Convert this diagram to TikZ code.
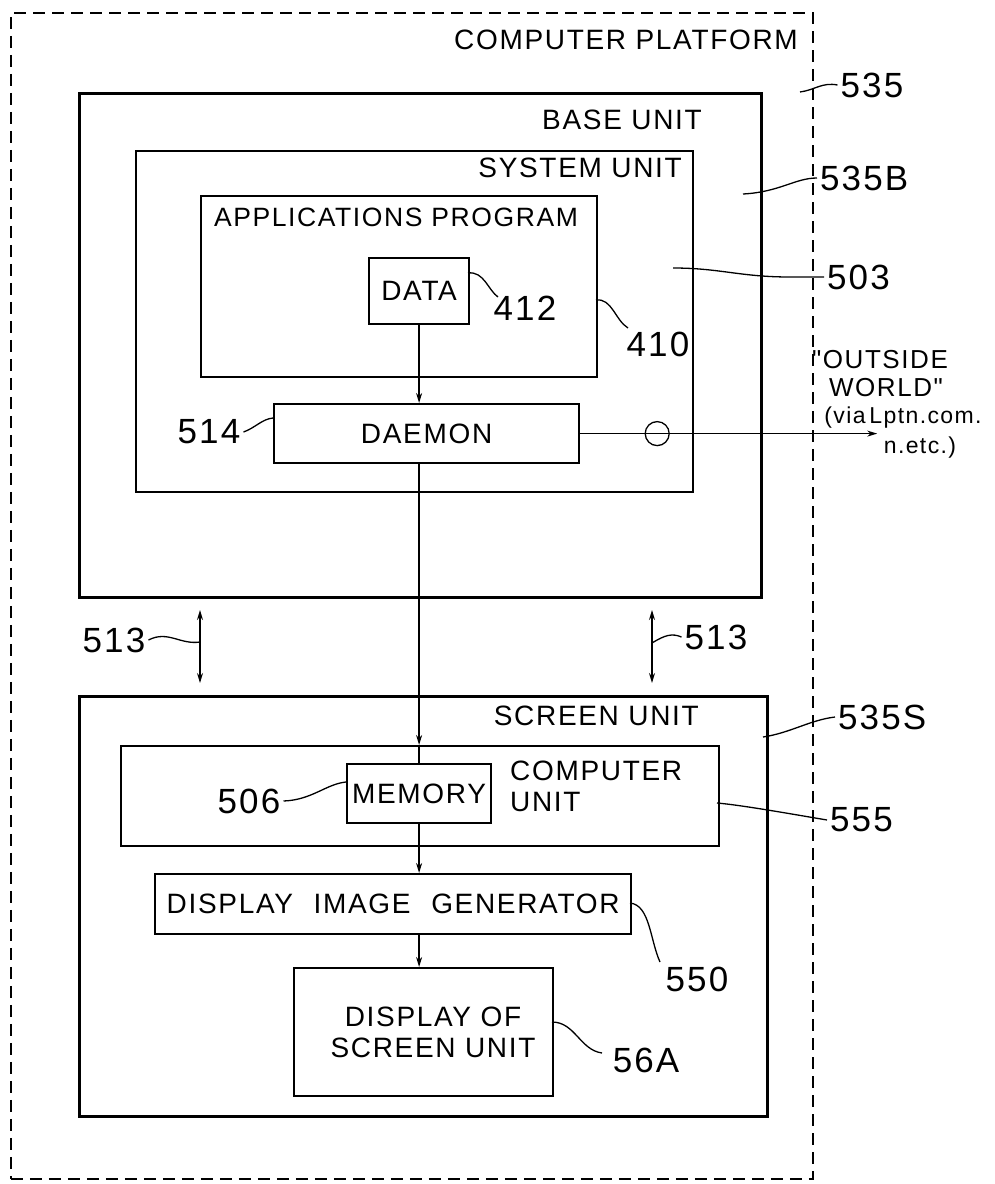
\documentclass[tikz,border=0pt]{standalone}
\usepackage{fontspec}
\setmainfont{Liberation Sans}[LetterSpace=6]
\newfontfamily\owfont{Liberation Sans}[LetterSpace=6]
\usetikzlibrary{arrows.meta,calc}
\begin{document}
\begin{tikzpicture}[x=1pt,y=-1pt,
  box/.style={draw,line width=2.2pt,inner sep=0pt,anchor=north west},
  heavy/.style={box,line width=2.8pt},
  lbl/.style={font=\fontsize{28}{31}\selectfont,inner sep=0pt},
  num/.style={font=\fontsize{35}{37}\selectfont,inner sep=3pt},
  small/.style={font=\owfont\fontsize{23}{25}\selectfont,inner sep=0pt},
  lead/.style={line width=1.3pt},
  conn/.style={line width=1.3pt},
  tip/.style={-{Stealth[length=10pt,width=6pt]}},
  dtip/.style={{Stealth[length=10pt,width=6pt]}-{Stealth[length=10pt,width=6pt]}}]
\useasboundingbox (0,0) rectangle (994,1184);

% outer platform (dashed)
\node[draw,dash pattern=on 12pt off 7pt,line width=1.5pt,inner sep=0pt,anchor=north west,
      minimum width=802pt,minimum height=1166pt] (platform) at (10,12) {};

% base unit side
\node[heavy,minimum width=682pt,minimum height=504pt] (base) at (78,92) {};
\node[box,minimum width=557pt,minimum height=341pt] (system) at (135,150) {};
\node[box,minimum width=396pt,minimum height=181pt] (apps) at (200,195) {};
\node[box,minimum width=100pt,minimum height=66pt] (data) at (368,257) {};
\node[box,minimum width=305pt,minimum height=59pt] (daemon) at (273,403) {};

% screen unit side
\node[heavy,minimum width=688pt,minimum height=420pt] (screen) at (78,695) {};
\node[box,minimum width=598pt,minimum height=100pt] (cu) at (120,745) {};
\node[box,minimum width=144pt,minimum height=59pt] (memory) at (346,763) {};
\node[box,minimum width=476pt,minimum height=60pt] (dig) at (154,873) {};
\node[box,minimum width=259pt,minimum height=128pt] (display) at (293,967) {};

% texts
\node[lbl,anchor=east] (tplat) at (798,40) {COMPUTER PLATFORM};
\node[lbl,anchor=east] (tbase) at (702,120) {BASE UNIT};
\node[lbl,anchor=east] (tsys) at (682,168) {SYSTEM UNIT};
\node[lbl,font=\fontsize{26.5}{29}\selectfont] (tapps) at (396,217) {APPLICATIONS PROGRAM};
\node[lbl] (tdata) at (data.center) {DATA};
\node[lbl] (tdaemon) at (daemon.center) {DAEMON};
\node[lbl,anchor=east] (tscreen) at (699,716) {SCREEN UNIT};
\node[lbl,anchor=west] (tcu1) at (510,771) {COMPUTER};
\node[lbl,anchor=west] (tcu2) at (510,802) {UNIT};
\node[lbl] (tmem) at (memory.center) {MEMORY};
\node[lbl] (tdig) at (dig.center) {DISPLAY\hspace{0.4em} IMAGE\hspace{0.4em} GENERATOR};
\node[lbl,align=center] (tdisp) at (433,1032) {DISPLAY OF\\SCREEN UNIT};

\node[lbl,font=\owfont\fontsize{26}{28}\selectfont] (tow1) at (880,360) {"OUTSIDE};
\node[lbl,font=\owfont\fontsize{26}{28}\selectfont] (tow2) at (886,388) {WORLD"};
\node[small] (tow3) at (903,418) {(via\,Lptn.com.};
\node[small] (tow4) at (920,448) {n.etc.)};

% reference numerals
\node[num] (n535) at (872,85) {535};
\node[num,anchor=west] (n535b) at (817,178) {535B};
\node[num,anchor=west] (n503) at (824,277) {503};
\node[num] (n412) at (525,308) {412};
\node[num] (n410) at (658,344) {410};
\node[num] (n514) at (209,432) {514};
\node[num] (n513a) at (114,640) {513};
\node[num] (n513b) at (716,637) {513};
\node[num,anchor=west] (n535s) at (835,717) {535S};
\node[num,anchor=west] (n555) at (827,820) {555};
\node[num] (n506) at (249,801) {506};
\node[num] (n550) at (697,979) {550};
\node[num] (n56a) at (646,1060) {56A};

% connectors
\draw[conn,tip] (data.south) -- (data.south |- daemon.north);
\draw[conn,tip] (data.south |- daemon.south) -- (data.south |- cu.north);
\draw[conn] (data.south |- cu.north) -- (memory.north);
\draw[conn,tip] (memory.south) -- (memory.south |- dig.north);
\draw[conn,tip] (memory.south |- dig.south) -- (memory.south |- display.north);
\coordinate (ow) at ($(daemon.east)+(297,0)$);
\draw[conn,tip] (daemon.east) -- (ow);
\draw[lead] ($(daemon.east)+(77,0)$) circle[radius=12pt];

\coordinate (a1t) at (200,610);
\coordinate (a1b) at (200,683);
\coordinate (a2t) at (652,610);
\coordinate (a2b) at (652,683);
\draw[conn,dtip] (a1t) -- (a1b);
\draw[conn,dtip] (a2t) -- (a2b);

% leaders
\draw[lead] (800,92) .. controls (815,90) and (822,82) .. (n535.west);
\draw[lead] (743,194) .. controls (780,192) and (795,178) .. (n535b.west);
\draw[lead] (673,268) .. controls (720,268) and (740,277) .. (790,277) -- (n503.west);
\draw[lead] (468,273) .. controls (484,271) and (488,290) .. (498,297);
\draw[lead] (596,300) .. controls (612,298) and (615,320) .. (628,328);
\draw[lead] (n514.east) .. controls (255,428) and (262,419) .. (273,418);
\draw[lead] (n513a.east) .. controls (168,630) and (180,645) .. (200,642);
\draw[lead] (652,643) .. controls (665,635) and (672,633) .. (n513b.west);
\draw[lead] (763,737) .. controls (790,733) and (810,720) .. (n535s.west);
\draw[lead] (717,803) .. controls (740,805) and (780,812) .. (n555.west);
\draw[lead] (n506.east) .. controls (312,800) and (326,784) .. (346,782);
\draw[lead] (630,903) .. controls (650,905) and (650,940) .. (660,962);
\draw[lead] (552,1022) .. controls (575,1022) and (580,1050) .. (602,1053);
\end{tikzpicture}
\end{document}
